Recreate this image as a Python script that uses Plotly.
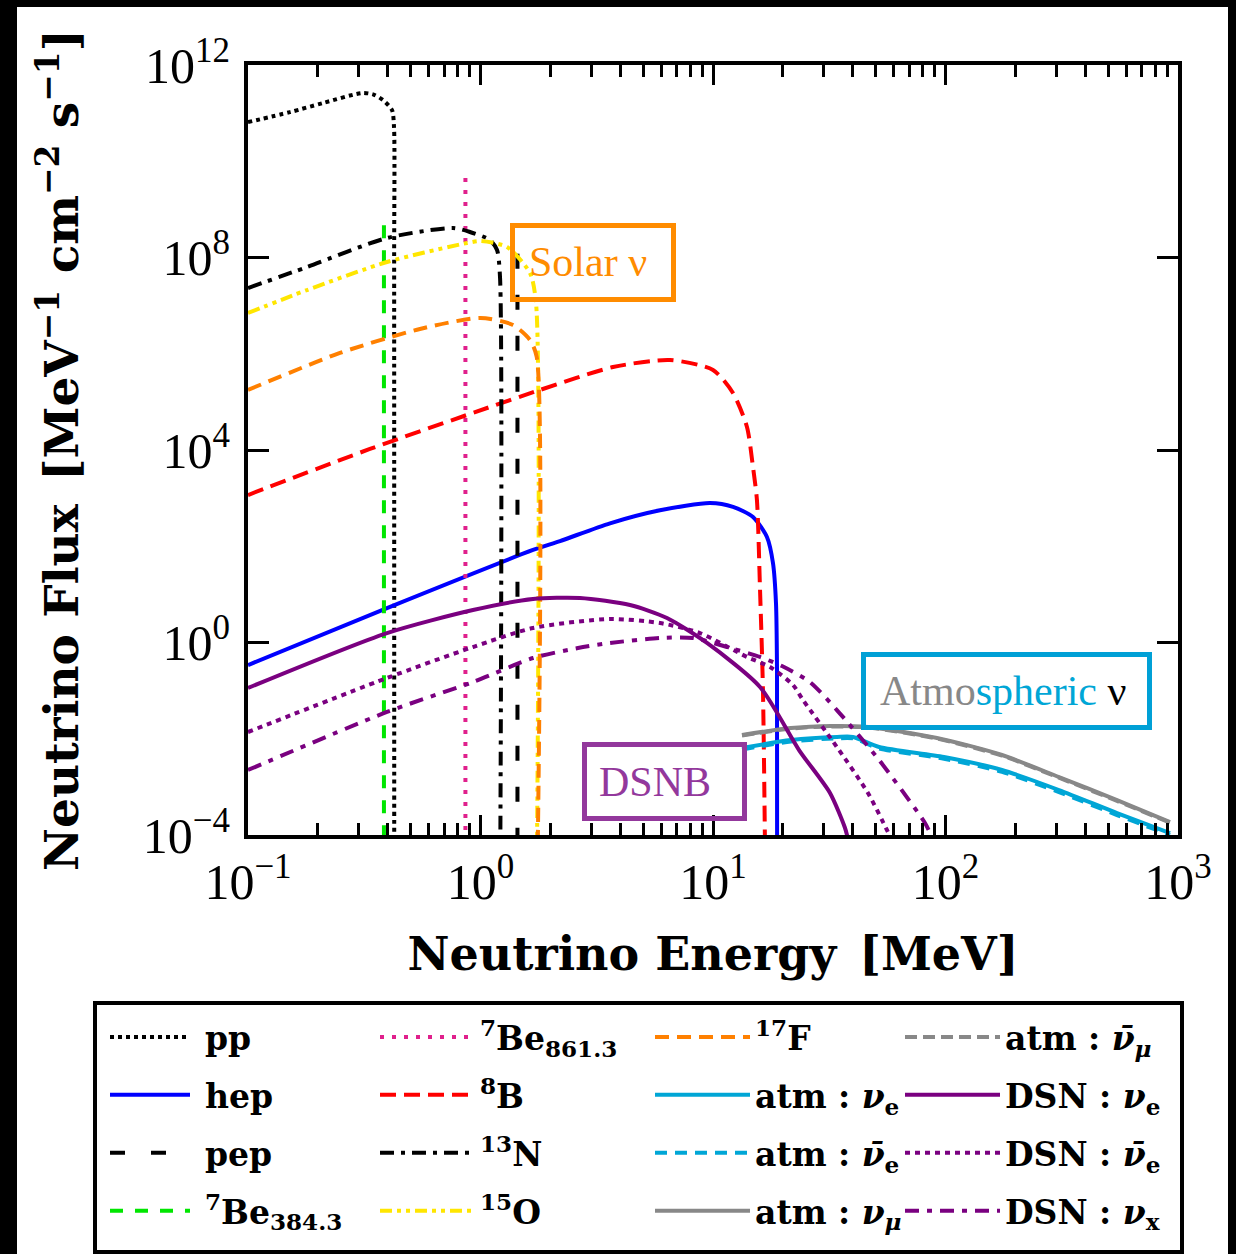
import plotly.graph_objects as go

# ---------------- data ----------------
pp_E = [0.1, 0.1516, 0.2102, 0.3092, 0.345, 0.3807, 0.4163, 0.4246, 0.4252, 0.4255]
pp_F = [6.5e10, 1.05e11, 1.62e11, 2.62e11, 2.45e11, 1.87e11, 1.16e11, 5.1e10, 1e8, 1e-5]

hep_E = [0.1, 0.396, 1.682, 2.198, 3.606, 5.916, 9.707, 12.19, 14.86, 17.06, 18.11, 18.66, 18.85, 18.87]
hep_F = [0.34, 5.2, 83.6, 128, 300, 560, 792, 660, 405, 156, 44.9, 6.6, 0.27, 1e-5]

pep_E = [1.442, 1.442]
pep_F = [1.2e8, 1e-5]

be384_E = [0.3843, 0.3843]
be384_F = [4.7e8, 1e-5]

be861_E = [0.8613, 0.8613]
be861_F = [4.49e9, 1e-5]

b8_E = [0.1, 0.3346, 1.067, 1.803, 3.715, 6.53, 10.0, 12.19, 14.0, 14.86, 15.45, 15.92, 16.4, 16.8]
b8_F = [1160, 1.05e4, 7.46e4, 1.77e5, 5.3e5, 7.4e5, 4.6e5, 1.53e5, 3.0e4, 4440, 914, 14.2, 0.103, 1e-5]

n13_E = [0.1, 0.1795, 0.396, 0.7615, 0.901, 1.099, 1.178, 1.213, 1.215]
n13_F = [2.32e7, 6.35e7, 2.54e8, 4.1e8, 3.39e8, 2.31e8, 1.43e8, 3.94e7, 1e-5]

o15_E = [0.1, 0.1795, 0.396, 0.875, 1.0, 1.30, 1.633, 1.733, 1.745]
o15_F = [7.03e6, 2.11e7, 8.06e7, 2.0e8, 2.2e8, 1.65e8, 4.76e7, 1.13e7, 1e-5]

f17_E = [0.1, 0.2487, 0.549, 1.0, 1.38, 1.633, 1.745, 1.755]
f17_F = [1.77e5, 1.04e6, 3.27e6, 5.53e6, 3.96e6, 1.93e6, 8.56e5, 1e-5]

atm_mu_E = [13.33, 21.65, 31.86, 46.4, 91.9, 175, 307.6, 546.7, 923.9]
atm_mu_F = [0.012, 0.0167, 0.0184, 0.0175, 0.0104, 4.6e-3, 1.6e-3, 5.33e-4, 1.86e-4]
atm_mubar_F = [0.0117, 0.0163, 0.018, 0.0171, 0.0101, 4.45e-3, 1.55e-3, 5.1e-4, 1.8e-4]

atm_e_E = [13.33, 21.65, 34.15, 40.0, 51.8, 98.5, 175, 307.6, 546.7, 923.9]
atm_e_F = [6.43e-3, 9.42e-3, 0.0109, 0.0109, 6.74e-3, 4.18e-3, 2.24e-3, 8.6e-4, 2.86e-4, 1.1e-4]
atm_ebar_F = [6.0e-3, 8.8e-3, 0.0102, 0.0102, 6.3e-3, 3.85e-3, 2.05e-3, 7.8e-4, 2.6e-4, 1.0e-4]

dsn_e_E = [0.1, 0.396, 0.928, 1.682, 2.68, 4.395, 6.34, 9.42, 15.93, 23.44, 31.86, 36.97, 37.9]
dsn_e_F = [0.1135, 1.57, 4.73, 8.0, 8.4, 6.0, 3.23, 0.977, 0.119, 5.83e-3, 7.46e-4, 1.4e-4, 9e-5]

dsn_ebar_E = [0.1, 0.396, 0.928, 1.682, 3.606, 5.916, 8.79, 14.0, 17.59, 22.08, 24.38, 34.1, 46.4, 56.0, 58.0]
dsn_ebar_F = [0.0138, 0.183, 0.805, 2.0, 3.08, 2.54, 1.57, 0.5, 0.31, 0.131, 0.0638, 6.74e-3, 7.46e-4, 1.27e-4, 9e-5]

dsn_x_E = [0.1, 0.396, 0.928, 1.682, 2.627, 3.606, 5.916, 8.2, 11.49, 15.93, 20.2, 26.1, 34.1, 51.8, 81.6, 87.5]
dsn_x_F = [2.24e-3, 0.036, 0.151, 0.476, 0.769, 0.977, 1.24, 1.24, 0.807, 0.5, 0.31, 0.151, 0.0395, 3.61e-3, 1.77e-4, 9e-5]

x_tickvals = [0.1, 1, 10, 100, 1000]
x_ticktext = ["10<sup>−1</sup>", "10<sup>0</sup>", "10<sup>1</sup>", "10<sup>2</sup>", "10<sup>3</sup>"]
x_minorvals = [m * 10.0 ** k for k in range(-1, 3) for m in range(2, 10)]
y_tickvals = [1e-4, 1, 1e4, 1e8, 1e12]
y_ticktext = ["10<sup>−4</sup>", "10<sup>0</sup>", "10<sup>4</sup>", "10<sup>8</sup>", "10<sup>12</sup>"]

# ---------------- layout helpers ----------------
W, H = 1236, 1254
L, R, T, B = 248, 1178, 65, 835


def px(x):
    return (x - L) / (R - L)


def py(y):
    return (B - y) / (B - T)


BLUE = "#0000ff"
RED = "#ff0000"
GREEN = "#00e600"
PINK = "#e0208c"
YELLOW = "#ffe600"
ORANGE = "#ff8000"
CYAN = "#00a6d6"
GRAY = "#888888"
PURPLE = "#7a0080"

series = [
    # name, E, F, color, dash, legend, shape
    ("pp", pp_E, pp_F, "black", "4px,4px", "legend", "spline"),
    ("hep", hep_E, hep_F, BLUE, "solid", "legend", "spline"),
    ("pep", pep_E, pep_F, "black", "15px,26px", "legend", "linear"),
    ("<sup>7</sup>Be<sub>384.3</sub>", be384_E, be384_F, GREEN, "13px,12px", "legend", "linear"),
    ("<sup>7</sup>Be<sub>861.3</sub>", be861_E, be861_F, PINK, "4px,8px", "legend2", "linear"),
    ("<sup>8</sup>B", b8_E, b8_F, RED, "16px,8px", "legend2", "spline"),
    ("<sup>13</sup>N", n13_E, n13_F, "black", "14px,7px,4px,7px", "legend2", "spline"),
    ("<sup>15</sup>O", o15_E, o15_F, YELLOW, "12px,5px,4px,5px,4px,5px", "legend2", "spline"),
    ("<sup>17</sup>F", f17_E, f17_F, ORANGE, "14px,8px", "legend3", "spline"),
    ("atm : <i>ν</i><sub>e</sub>", atm_e_E, atm_e_F, CYAN, "solid", "legend3", "spline"),
    ("atm : <i>ν̄</i><sub>e</sub>", atm_e_E, atm_ebar_F, CYAN, "12px,8px", "legend3", "spline"),
    ("atm : <i>ν</i><sub><i>μ</i></sub>", atm_mu_E, atm_mu_F, GRAY, "solid", "legend3", "spline"),
    ("atm : <i>ν̄</i><sub><i>μ</i></sub>", atm_mu_E, atm_mubar_F, GRAY, "12px,6px", "legend4", "spline"),
    ("DSN : <i>ν</i><sub>e</sub>", dsn_e_E, dsn_e_F, PURPLE, "solid", "legend4", "spline"),
    ("DSN : <i>ν̄</i><sub>e</sub>", dsn_ebar_E, dsn_ebar_F, PURPLE, "5px,5px", "legend4", "spline"),
    ("DSN : <i>ν</i><sub>x</sub>", dsn_x_E, dsn_x_F, PURPLE, "14px,8px,5px,8px", "legend4", "spline"),
]

fig = go.Figure()
for name, E, F, color, dash, leg, shape in series:
    line = dict(color=color, width=4, dash=dash, shape=shape)
    if shape == "spline":
        line["smoothing"] = 0.7
    fig.add_trace(go.Scatter(
        x=E, y=F, mode="lines", name=name, legend=leg, legendgroup=name,
        line=line, hoverinfo="skip",
    ))

ITEMW = 95
legend_font = dict(family="DejaVu Serif", size=33, color="black", weight="bold")
legend_common = dict(xanchor="left", yanchor="top", bgcolor="rgba(0,0,0,0)",
                     borderwidth=0, font=legend_font, tracegroupgap=12,
                     orientation="v", traceorder="grouped", itemwidth=ITEMW)
col_text_x = [205, 480, 755, 1005]
legend_top = 1009
legends = {}
for i, key in enumerate(["legend", "legend2", "legend3", "legend4"]):
    legends[key] = dict(x=px(col_text_x[i] - ITEMW - 10), y=py(legend_top), **legend_common)

axis_common = dict(
    type="log", showgrid=False, zeroline=False, showline=True, linewidth=4,
    linecolor="black", mirror="ticks", ticks="inside", tickcolor="black",
    tickwidth=3, automargin=False,
    tickfont=dict(family="Liberation Serif", size=50, color="black"),
)

fig.update_layout(
    width=W, height=H,
    margin=dict(l=L, r=W - R, t=T, b=H - B, autoexpand=False),
    paper_bgcolor="black", plot_bgcolor="white",
    font=dict(family="Liberation Serif", color="black"),
    showlegend=True,
    xaxis=dict(
        range=[-1, 3], tickmode="array", tickvals=x_tickvals, ticktext=x_ticktext,
        ticklen=20, ticklabelstandoff=0,
        minor=dict(tickmode="array", tickvals=x_minorvals, ticks="inside",
                   ticklen=12, tickwidth=2.5, tickcolor="black", showgrid=False),
        title=dict(text="Neutrino Energy\u2002[MeV]", standoff=30,
                   font=dict(family="DejaVu Serif", size=46, weight="bold", color="black")),
        **axis_common,
    ),
    yaxis=dict(
        range=[-4, 12], tickmode="array", tickvals=y_tickvals, ticktext=y_ticktext,
        ticklen=21, ticklabelstandoff=4,
        title=dict(text="Neutrino Flux\u2002[MeV<sup>−1</sup> cm<sup>−2</sup> s<sup>−1</sup>]",
                   standoff=50,
                   font=dict(family="DejaVu Serif", size=47, weight="bold", color="black")),
        **axis_common,
    ),
    **legends,
)

shapes = [
    # white page inside the black frame
    dict(type="rect", xref="paper", yref="paper", layer="below",
         x0=px(17), x1=px(1228), y0=py(1262), y1=py(7),
         fillcolor="white", line=dict(width=0)),
    # legend frame
    dict(type="rect", xref="paper", yref="paper", layer="above",
         x0=px(95), x1=px(1182), y0=py(1252), y1=py(1003),
         fillcolor="rgba(0,0,0,0)", line=dict(color="black", width=4)),
    # Solar box
    dict(type="rect", xref="paper", yref="paper", layer="above",
         x0=px(512.5), x1=px(673.5), y0=py(299.5), y1=py(225.5),
         line=dict(color="#ff8c00", width=5)),
    # DSNB box
    dict(type="rect", xref="paper", yref="paper", layer="above",
         x0=px(584.5), x1=px(744.5), y0=py(818.5), y1=py(744.5),
         line=dict(color="#93389c", width=5)),
    # Atmospheric box
    dict(type="rect", xref="paper", yref="paper", layer="above",
         x0=px(863.5), x1=px(1149.5), y0=py(727.5), y1=py(654.5),
         line=dict(color="#00a0d6", width=5)),
]
fig.update_layout(shapes=shapes)

ann_font = dict(family="Liberation Serif", size=42)
fig.add_annotation(xref="paper", yref="paper", x=px(588), y=py(262), text="Solar ν",
                   showarrow=False, xanchor="center", yanchor="middle",
                   font=dict(color="#ff8c00", **ann_font))
fig.add_annotation(xref="paper", yref="paper", x=px(655), y=py(782), text="DSNB",
                   showarrow=False, xanchor="center", yanchor="middle",
                   font=dict(color="#93389c", **ann_font))
fig.add_annotation(xref="paper", yref="paper", x=px(1003), y=py(691),
                   text="<span style='color:#888888'>Atmo</span><span style='color:#00a6d6'>spheric</span> ν",
                   showarrow=False, xanchor="center", yanchor="middle",
                   font=dict(color="black", **ann_font))

# Lengthen the legend line samples to 80 px, ending 15 px before each label
post_js = """
var gd = document.getElementById('{plot_id}');
function stretchLegendSamples() {
  gd.querySelectorAll('g.traces').forEach(function (item) {
    var txt = item.querySelector('text.legendtext');
    if (!txt) return;
    var left = txt.getBoundingClientRect().left;
    item.querySelectorAll('g.legendlines path').forEach(function (p) {
      var m = p.getScreenCTM();
      if (!m) return;
      var xEnd = (left - 15 - m.e) / m.a;
      var xStart = xEnd - 80 / m.a;
      p.setAttribute('d', 'M' + xStart + ',0H' + xEnd);
    });
  });
}
stretchLegendSamples();
gd.on('plotly_afterplot', stretchLegendSamples);
"""

fig.write_html("out.html", post_script=post_js)
